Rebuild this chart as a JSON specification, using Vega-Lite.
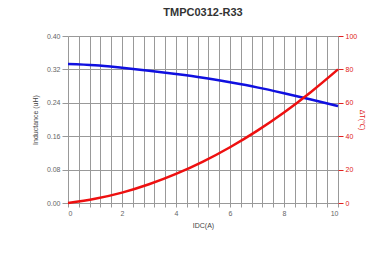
{
  "$schema": "https://vega.github.io/schema/vega-lite/v6.json",
  "autosize": {"type": "none"},
  "width": 270,
  "height": 167,
  "padding": {"left": 68, "top": 36, "right": 28, "bottom": 52},
  "background": "white",
  "title": {"text": "TMPC0312-R33", "font": "Liberation Sans", "fontSize": 11, "fontWeight": "bold", "color": "#333", "offset": 14, "anchor": "middle"},
  "config": {"view": {"stroke": null}, "axis": {"labelFont": "Liberation Sans", "titleFont": "Liberation Sans", "labelFontSize": 7, "titleFontSize": 7, "titleFontWeight": "normal", "labelColor": "#666", "titleColor": "#444", "gridColor": "#999", "gridOpacity": 1, "tickColor": "#999", "domain": false}},
  "data": {"values": [
    {"idc": 0, "L": 0.333, "T": 0},
    {"idc": 1, "L": 0.330, "T": 2.5},
    {"idc": 2, "L": 0.324, "T": 6.2},
    {"idc": 3, "L": 0.317, "T": 11.2},
    {"idc": 4, "L": 0.309, "T": 17.4},
    {"idc": 5, "L": 0.300, "T": 24.8},
    {"idc": 6, "L": 0.289, "T": 33.4},
    {"idc": 7, "L": 0.277, "T": 43.2},
    {"idc": 8, "L": 0.263, "T": 54.2},
    {"idc": 9, "L": 0.248, "T": 66.5},
    {"idc": 10, "L": 0.232, "T": 80}
  ]},
  "encoding": {
    "x": {"field": "idc", "type": "quantitative", "scale": {"domain": [0, 10], "nice": false},
      "axis": {"title": "IDC(A)", "values": [0,0.4,0.8,1.2,1.6,2,2.4,2.8,3.2,3.6,4,4.4,4.8,5.2,5.6,6,6.4,6.8,7.2,7.6,8,8.4,8.8,9.2,9.6,10],
        "labelExpr": "round(datum.value*10) % 20 == 0 ? format(datum.value, 'd') : ''", "tickSize": 4, "labelPadding": 2, "titlePadding": 5}}
  },
  "layer": [
    {"mark": {"type": "line", "color": "#1010e0", "strokeWidth": 2.5, "interpolate": "monotone"},
     "encoding": {"y": {"field": "L", "type": "quantitative", "scale": {"domain": [0, 0.4], "nice": false},
       "axis": {"title": "Inductance (uH)", "values": [0, 0.08, 0.16, 0.24, 0.32, 0.4], "format": ".2f", "tickSize": 6, "labelPadding": 2, "titlePadding": 8}}}},
    {"mark": {"type": "line", "color": "#ee1010", "strokeWidth": 2.5, "interpolate": "monotone"},
     "encoding": {"y": {"field": "T", "type": "quantitative", "scale": {"domain": [0, 100], "nice": false},
       "axis": {"title": "ΔT(℃)", "orient": "right", "grid": false, "values": [0, 20, 40, 60, 80, 100], "labelColor": "#e02020", "titleColor": "#e02020", "tickColor": "#e02020", "tickSize": 5, "labelPadding": 2, "titlePadding": 2}}}}
  ],
  "resolve": {"scale": {"y": "independent"}}
}
